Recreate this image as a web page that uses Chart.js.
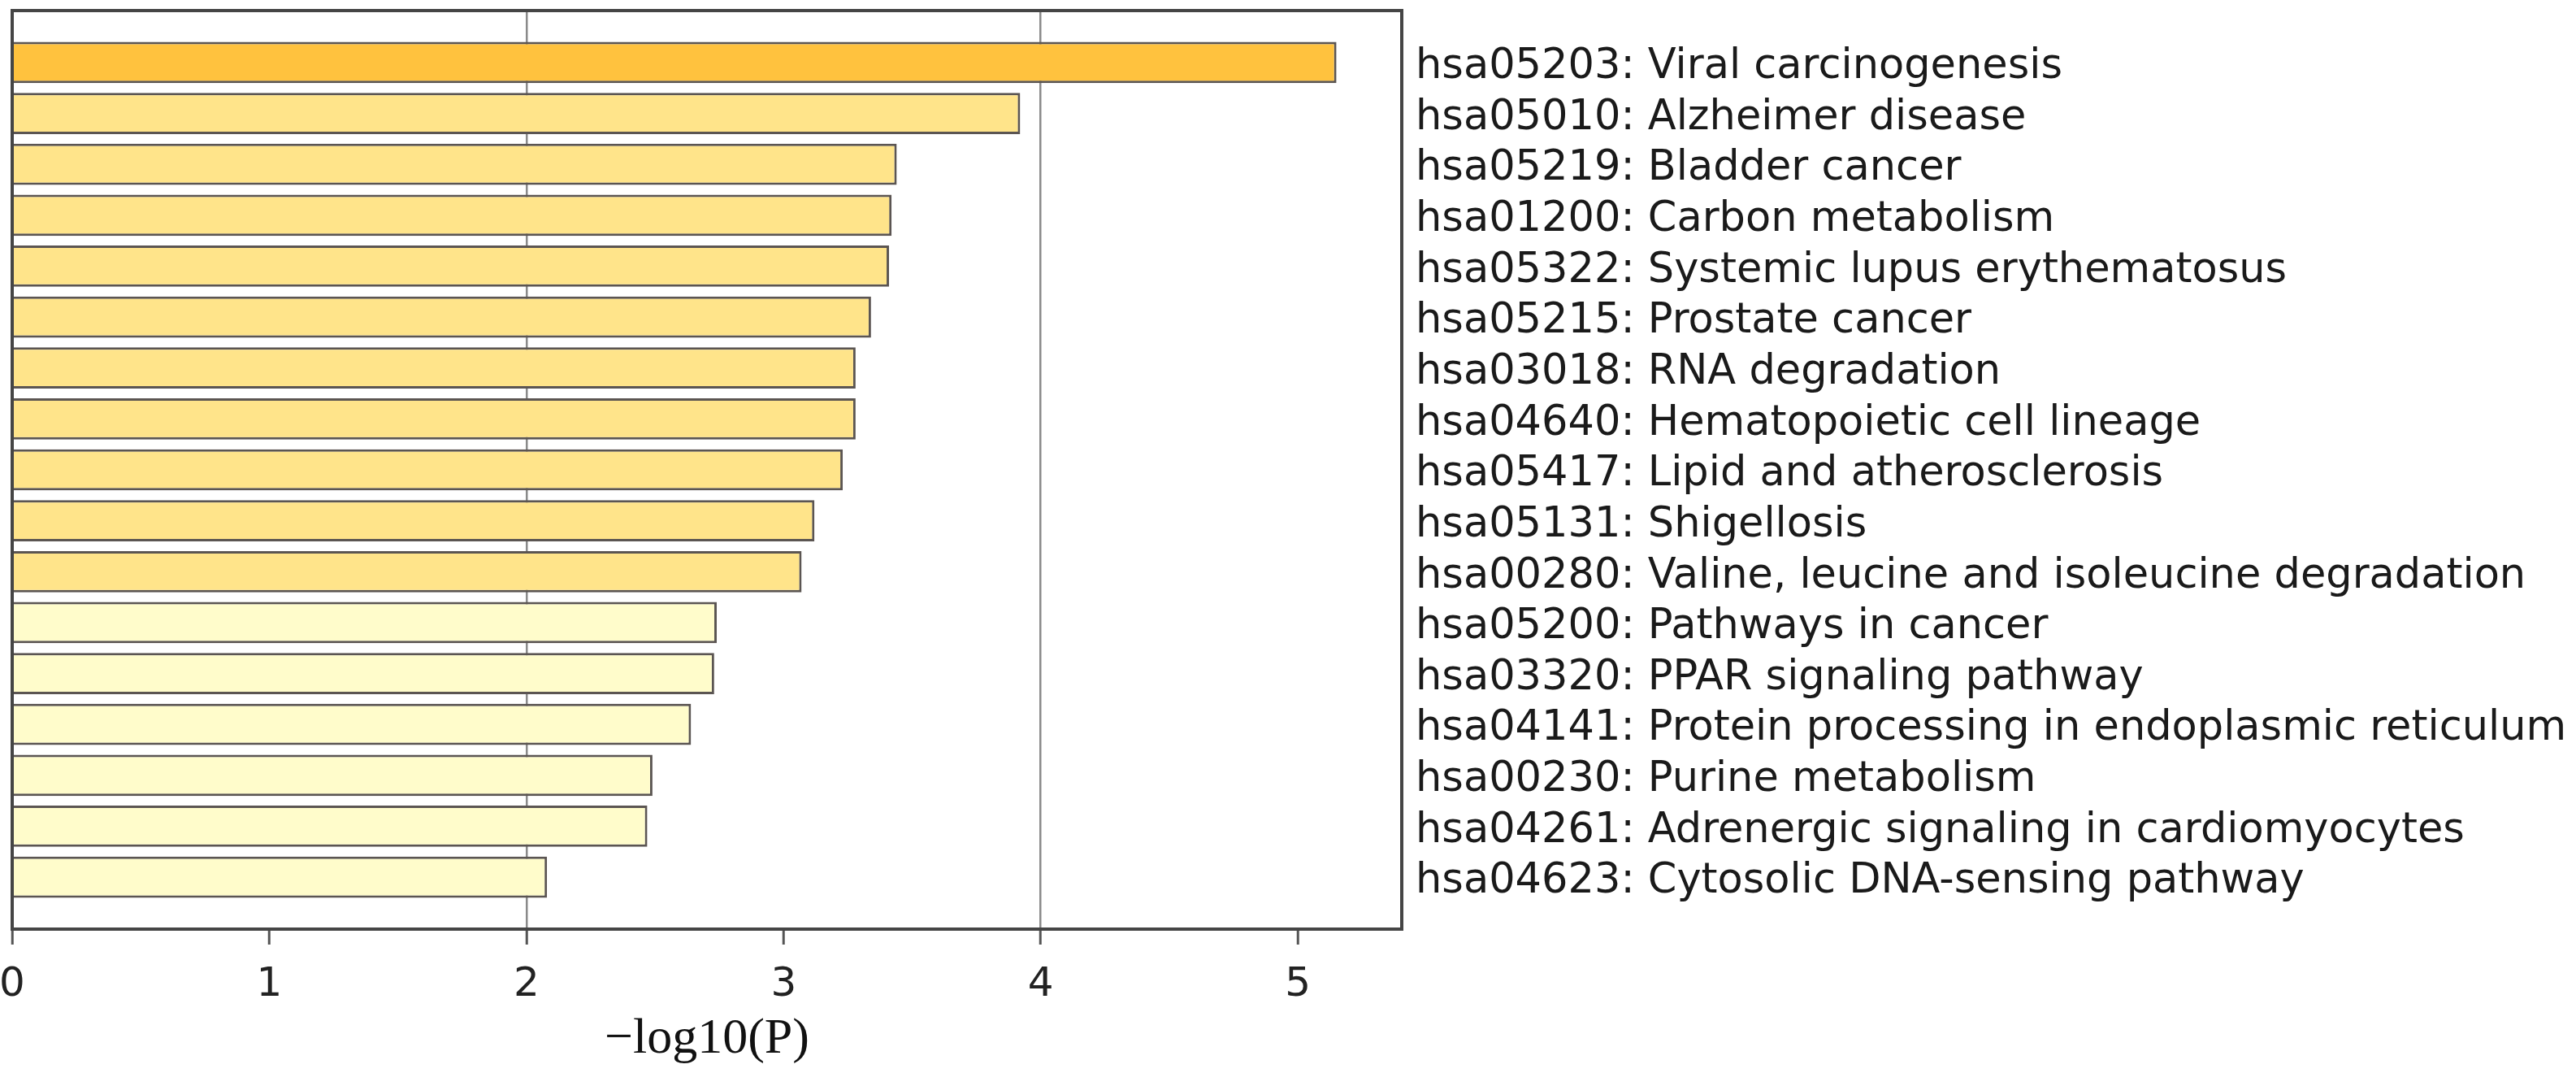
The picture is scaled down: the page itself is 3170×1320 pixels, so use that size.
<!DOCTYPE html>
<html>
<head>
<meta charset="utf-8">
<script src="https://cdn.jsdelivr.net/npm/chart.js@4.4.1/dist/chart.umd.min.js"></script>
<style>
  html, body { margin: 0; padding: 0; background: #fff; }
  canvas { display: block; }
</style>
</head>
<body>
<canvas id="keggChart" width="3170" height="1320"></canvas>
<script>
// KEGG pathway enrichment, top to bottom
const categories = [
  "hsa05203: Viral carcinogenesis",
  "hsa05010: Alzheimer disease",
  "hsa05219: Bladder cancer",
  "hsa01200: Carbon metabolism",
  "hsa05322: Systemic lupus erythematosus",
  "hsa05215: Prostate cancer",
  "hsa03018: RNA degradation",
  "hsa04640: Hematopoietic cell lineage",
  "hsa05417: Lipid and atherosclerosis",
  "hsa05131: Shigellosis",
  "hsa00280: Valine, leucine and isoleucine degradation",
  "hsa05200: Pathways in cancer",
  "hsa03320: PPAR signaling pathway",
  "hsa04141: Protein processing in endoplasmic reticulum",
  "hsa00230: Purine metabolism",
  "hsa04261: Adrenergic signaling in cardiomyocytes",
  "hsa04623: Cytosolic DNA-sensing pathway",
];
const minusLog10P = [
  5.15, 3.92, 3.44, 3.42, 3.41, 3.34, 3.28, 3.28, 3.23, 3.12, 3.07,
  2.74, 2.73, 2.64, 2.49, 2.47, 2.08,
];
const xTicks = [0, 1, 2, 3, 4, 5];
const gridAt = [2, 4];
const xTitle = "\u2212log10(P)";

function barColor(v) {
  if (v >= 4) return "#FFC23E";
  if (v >= 3) return "#FFE48A";
  return "#FFFCCB";
}

// matplotlib-like box around the plot area
const frame = {
  id: "frame",
  afterDatasetsDraw(chart) {
    const { ctx, chartArea: a } = chart;
    ctx.save();
    ctx.strokeStyle = "#454545";
    ctx.lineWidth = 4;
    ctx.strokeRect(a.left, a.top, a.right - a.left, a.bottom - a.top);
    ctx.restore();
  },
};

const points = categories.map((c, i) => ({ x: minusLog10P[i], y: i }));

new Chart(document.getElementById("keggChart"), {
  type: "bar",
  data: {
    datasets: [
      {
        data: points,
        backgroundColor: (ctx) => barColor(ctx.raw ? ctx.raw.x : 0),
        borderColor: "#5b5552",
        borderWidth: 3,
        barPercentage: 0.81,
        categoryPercentage: 1,
      },
    ],
  },
  options: {
    indexAxis: "y",
    responsive: false,
    devicePixelRatio: 1,
    animation: false,
    layout: { padding: { top: 13, left: 15, right: 0, bottom: 0 } },
    plugins: { legend: { display: false }, tooltip: { enabled: false } },
    scales: {
      x: {
        type: "linear",
        position: "bottom",
        min: 0,
        max: 5.404,
        afterBuildTicks: (s) => {
          s.ticks = xTicks.map((v) => ({ value: v }));
        },
        afterFit: (s) => {
          s.height = 177;
          s.paddingLeft = 0;
          s.paddingRight = 0;
        },
        border: { display: false },
        grid: {
          color: (ctx) =>
            ctx.tick && gridAt.includes(ctx.tick.value) ? "#8a8a8a" : "rgba(0,0,0,0)",
          lineWidth: 2.5,
          tickLength: 19,
          tickColor: "#555",
          tickWidth: 3,
        },
        ticks: {
          padding: 20,
          color: "#222",
          font: { family: "DejaVu Sans", size: 50 },
        },
        title: {
          display: true,
          text: xTitle,
          color: "#111",
          font: { family: "Liberation Serif", size: 62 },
          padding: { top: 0, bottom: 4 },
        },
      },
      y: {
        type: "linear",
        position: "right",
        reverse: true,
        offset: false,
        min: -1.02,
        max: 17.02,
        afterBuildTicks: (s) => {
          s.ticks = categories.map((c, i) => ({ value: i }));
        },
        afterFit: (s) => {
          s.width = 3170 - 1725;
          s.paddingTop = 0;
          s.paddingBottom = 0;
        },
        border: { display: false },
        grid: { display: false, drawTicks: false },
        ticks: {
          autoSkip: false,
          padding: 17,
          labelOffset: 6,
          crossAlign: "near",
          color: "#1a1a1a",
          font: { family: "DejaVu Sans", size: 51 },
          callback: (v) => categories[v] || "",
        },
      },
    },
  },
  plugins: [frame],
});
</script>
</body>
</html>
